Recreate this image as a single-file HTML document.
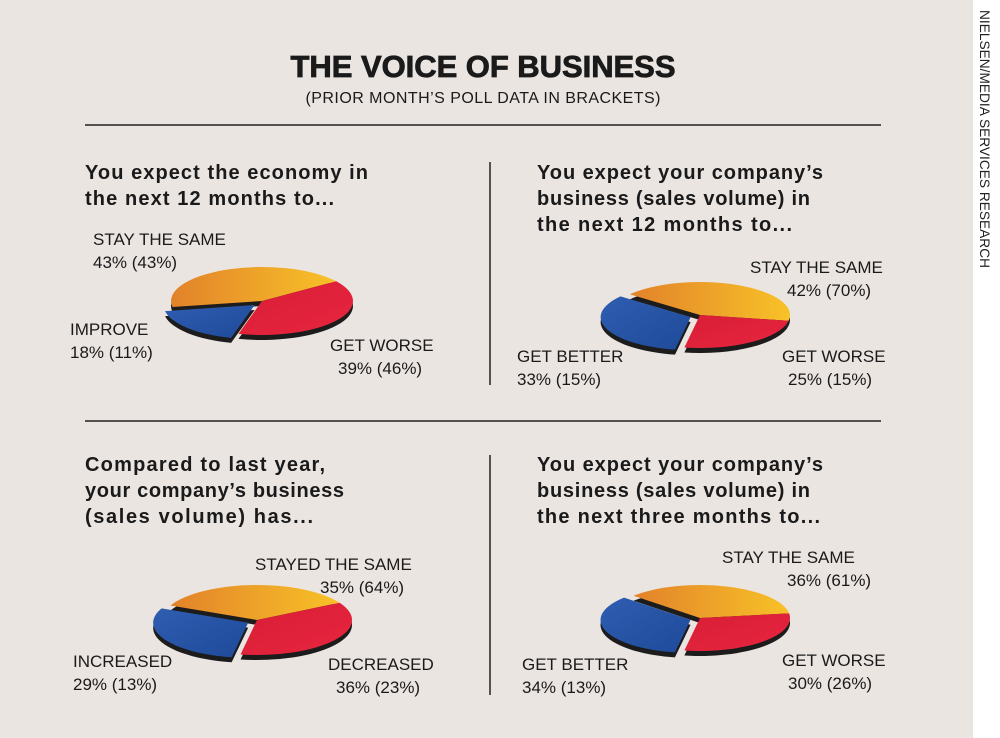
<!DOCTYPE html>
<html><head><meta charset="utf-8"><style>
html,body{margin:0;padding:0;background:#fff}
svg{display:block;font-family:"Liberation Sans",sans-serif}
</style></head><body>
<svg id="chart" width="1000" height="738" viewBox="0 0 1000 738">
<defs>
<linearGradient id="og" x1="0" x2="1" y1="0" y2="0"><stop offset="0" stop-color="#e2822a"/><stop offset="1" stop-color="#f8c228"/></linearGradient>
<linearGradient id="rg" x1="0" x2="1" y1="0" y2="1"><stop offset="0" stop-color="#d81e36"/><stop offset="1" stop-color="#e8253f"/></linearGradient>
<linearGradient id="bg" x1="0" x2="1" y1="0" y2="1"><stop offset="0" stop-color="#2f5db0"/><stop offset="1" stop-color="#1f4a9a"/></linearGradient>
</defs>
<rect x="0" y="0" width="973" height="738" fill="#ebe5e2"/>
<text x="0" y="0" transform="translate(980 10) rotate(90)" font-size="14" fill="#222" textLength="258" lengthAdjust="spacingAndGlyphs">NIELSEN/MEDIA SERVICES RESEARCH</text>
<text x="483" y="77" text-anchor="middle" font-size="31" font-weight="bold" fill="#1a1a1a" textLength="385" stroke="#1a1a1a" stroke-width="0.8">THE VOICE OF BUSINESS</text>
<text x="483" y="103" text-anchor="middle" font-size="16" fill="#1a1a1a" textLength="355">(PRIOR MONTH’S POLL DATA IN BRACKETS)</text>
<line x1="85" y1="125" x2="881" y2="125" stroke="#222" stroke-width="1.5"/>
<line x1="85" y1="421" x2="881" y2="421" stroke="#222" stroke-width="1.5"/>
<line x1="490" y1="162" x2="490" y2="385" stroke="#222" stroke-width="1.5"/>
<line x1="490" y1="455" x2="490" y2="695" stroke="#222" stroke-width="1.5"/>

<g font-size="20" font-weight="bold" fill="#1a1a1a" lengthAdjust="spacingAndGlyphs">
<text x="85" y="179" textLength="283">You expect the economy in</text>
<text x="85" y="205" textLength="249">the next 12 months to...</text>
<text x="537" y="179" textLength="286">You expect your company’s</text>
<text x="537" y="205" textLength="273">business (sales volume) in</text>
<text x="537" y="231" textLength="255">the next 12 months to...</text>
<text x="85" y="471" textLength="240">Compared to last year,</text>
<text x="85" y="497" textLength="259">your company’s business</text>
<text x="85" y="523" textLength="228">(sales volume) has...</text>
<text x="537" y="471" textLength="286">You expect your company’s</text>
<text x="537" y="497" textLength="273">business (sales volume) in</text>
<text x="537" y="523" textLength="283">the next three months to...</text>
</g>
<g id="pies"></g>
<g font-size="17" fill="#1a1a1a">
<text x="93" y="245">STAY THE SAME</text>
<text x="93" y="268">43% (43%)</text>
<text x="70" y="335">IMPROVE</text>
<text x="70" y="358">18% (11%)</text>
<text x="330" y="351">GET WORSE</text>
<text x="338" y="374">39% (46%)</text>
<text x="750" y="273">STAY THE SAME</text>
<text x="787" y="296">42% (70%)</text>
<text x="517" y="362">GET BETTER</text>
<text x="517" y="385">33% (15%)</text>
<text x="782" y="362">GET WORSE</text>
<text x="788" y="385">25% (15%)</text>
<text x="255" y="570">STAYED THE SAME</text>
<text x="320" y="593">35% (64%)</text>
<text x="73" y="667">INCREASED</text>
<text x="73" y="690">29% (13%)</text>
<text x="328" y="670">DECREASED</text>
<text x="336" y="693">36% (23%)</text>
<text x="722" y="563">STAY THE SAME</text>
<text x="787" y="586">36% (61%)</text>
<text x="522" y="670">GET BETTER</text>
<text x="522" y="693">34% (13%)</text>
<text x="782" y="666">GET WORSE</text>
<text x="788" y="689">30% (26%)</text>
</g>
</svg>
<script>
// order per pie: [better/improve (blue), same (orange), worse (red)]
const pieNames = ["economy-12m", "company-12m", "company-vs-last-year", "company-3m"];
const blueValues = [18, 33, 29, 34];
const orangeValues = [43, 42, 35, 36];
const redValues = [39, 25, 36, 30];

const layout = [
  {cx:262, cy:301, rx:91, ry:34, start:105},
  {cx:700, cy:315, rx:90, ry:33, start:100},
  {cx:257, cy:620, rx:95, ry:35, start:100},
  {cx:700, cy:618, rx:90, ry:33, start:100}
];
const NS = "http://www.w3.org/2000/svg";
const g = document.getElementById("pies");
function pt(L, a, ox, oy){
  const r = a*Math.PI/180;
  return [L.cx+ox+L.rx*Math.cos(r), L.cy+oy+L.ry*Math.sin(r)];
}
function slicePath(L, a0, a1, ox, oy){
  const p0 = pt(L,a0,ox,oy), p1 = pt(L,a1,ox,oy);
  const large = (a1-a0) > 180 ? 1 : 0;
  return "M"+(L.cx+ox)+","+(L.cy+oy)+" L"+p0[0]+","+p0[1]+" A"+L.rx+" "+L.ry+" 0 "+large+" 1 "+p1[0]+","+p1[1]+" Z";
}
const fills = ["url(#bg)", "url(#og)", "url(#rg)"];
const sliceNames = ["blue", "orange", "red"];
pieNames.forEach(function(name, i){
  const L = layout[i];
  const vals = [blueValues[i], orangeValues[i], redValues[i]];
  const tot = vals[0]+vals[1]+vals[2];
  let a = L.start;
  const segs = vals.map(function(v){ const a0=a; a += v/tot*360; return [a0, a]; });
  const mid = (segs[0][0]+segs[0][1])/2*Math.PI/180;
  const ex = [10*Math.cos(mid), 6*Math.sin(mid)];
  segs.forEach(function(s, k){
    const ox = k===0 ? ex[0] : 0, oy = k===0 ? ex[1] : 0;
    const p = document.createElementNS(NS, "path");
    p.setAttribute("d", slicePath(L, s[0], s[1], ox, oy+5));
    p.setAttribute("fill", "#1c1c1c");
    
    
    g.appendChild(p);
  });
  segs.forEach(function(s, k){
    const ox = k===0 ? ex[0] : 0, oy = k===0 ? ex[1] : 0;
    const p = document.createElementNS(NS, "path");
    p.setAttribute("d", slicePath(L, s[0], s[1], ox, oy));
    p.setAttribute("fill", fills[k]);
    
    
    g.appendChild(p);
  });
});
</script>
</body></html>
